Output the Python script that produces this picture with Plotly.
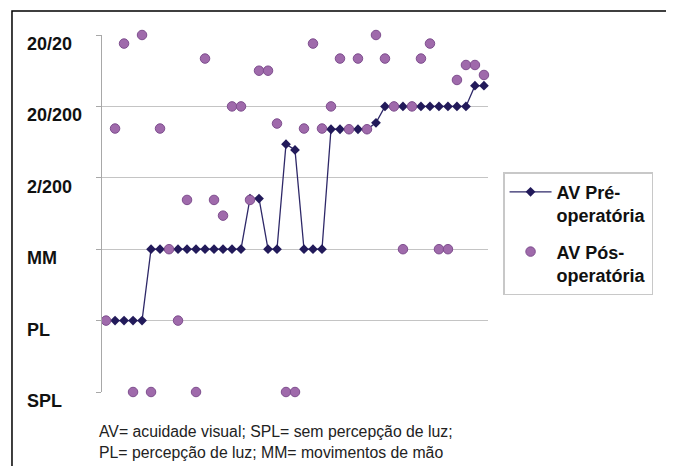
import plotly.graph_objects as go

# Patients (index along x), 43 cases
patients = list(range(43))

# Visual acuity levels: 0=SPL, 1=PL, 2=MM, 3=2/200, 4=20/200, 5=20/20
level_values = [0, 1, 2, 3, 4, 5]
level_labels = ["SPL", "PL", "MM", "2/200", "20/200", "20/20"]

av_pre = [1, 1, 1, 1, 1,
          2, 2, 2, 2, 2, 2, 2, 2, 2, 2, 2,
          2.71, 2.71,
          2, 2,
          3.47, 3.39,
          2, 2, 2,
          3.68, 3.68, 3.68, 3.68, 3.68,
          3.77,
          4, 4, 4, 4, 4, 4, 4, 4, 4, 4,
          4.29, 4.29]

av_pos = [1, 3.69, 4.88, 0, 5.0, 0, 3.69, 2, 1, 2.69,
          0, 4.67, 2.69, 2.47, 4.0, 4.0, 2.69, 4.5, 4.5, 3.76,
          0, 0, 3.69, 4.88, 3.69, 4.0, 4.67, 3.68, 4.67, 3.68,
          5.0, 4.67, 4.0, 2, 4.0, 4.67, 4.88, 2, 2, 4.37,
          4.58, 4.58, 4.44]

series_names = ["AV Pré-<br>operatória", "AV Pós-<br>operatória"]
footnote = "AV= acuidade visual; SPL= sem percepção de luz;<br>PL= percepção de luz; MM= movimentos de mão"

FONT = "Liberation Sans, Arial, sans-serif"

fig = go.Figure()
fig.add_trace(go.Scatter(
    x=patients, y=av_pre, name=series_names[0], mode="lines+markers",
    legendgroup="pre",
    line=dict(color="#2e2868", width=1.3),
    marker=dict(symbol="diamond", size=7.5, color="#221a5a"),
    cliponaxis=False,
))
fig.add_trace(go.Scatter(
    x=patients, y=av_pos, name=series_names[1], mode="markers",
    legendgroup="pos",
    marker=dict(symbol="circle", size=9.5, color="#9f6aab",
                line=dict(color="#7e4e8e", width=1)),
    cliponaxis=False,
))

# Left-aligned level labels, slightly below their gridlines
for v, t in zip(level_values, level_labels):
    fig.add_annotation(
        x=-0.199, xref="paper", y=v, yref="y", yshift=-9,
        text="<b>%s</b>" % t, showarrow=False, xanchor="left", yanchor="middle",
        font=dict(family=FONT, size=18, color="#111111"),
    )

fig.add_annotation(
    x=-0.012, xref="paper", y=-0.10, yref="paper", yshift=7, text=footnote,
    showarrow=False, xanchor="left", yanchor="top", align="left",
    font=dict(family=FONT, size=15.8, color="#222222"),
)

# Outer frame of the chart
fig.add_shape(type="rect", xref="paper", yref="paper",
              x0=-0.2332, x1=1.479, y0=-0.25, y1=1.067,
              line=dict(color="#000000", width=1.5), layer="above")

fig.update_layout(
    width=666, height=458,
    margin=dict(l=94, r=186, t=27, b=74),
    paper_bgcolor="white", plot_bgcolor="white",
    font=dict(family=FONT, color="#111111"),
    showlegend=True,
    legend=dict(
        x=1.039, y=0.616, xanchor="left", yanchor="top",
        bordercolor="#c8c8c8", borderwidth=1.5,
        font=dict(family=FONT, size=18, color="#111111", weight="bold"),
        valign="top", tracegroupgap=10, itemwidth=42,
        entrywidth=128, entrywidthmode="pixels",
    ),
    xaxis=dict(range=[-0.45, 42.45], showgrid=False, zeroline=False,
               showticklabels=False, ticks="", showline=False),
    yaxis=dict(range=[0, 5], tickvals=level_values, showticklabels=False,
               showgrid=False, zeroline=False, showline=True,
               linecolor="#a8a8a8", linewidth=1, ticks="outside", ticklen=5,
               tickcolor="#a8a8a8",
               minor=dict(tickvals=[1, 2, 3, 4], showgrid=True,
                          gridcolor="#c4c4c4", gridwidth=1, ticks="")),
)

fig.write_html("out.html")
